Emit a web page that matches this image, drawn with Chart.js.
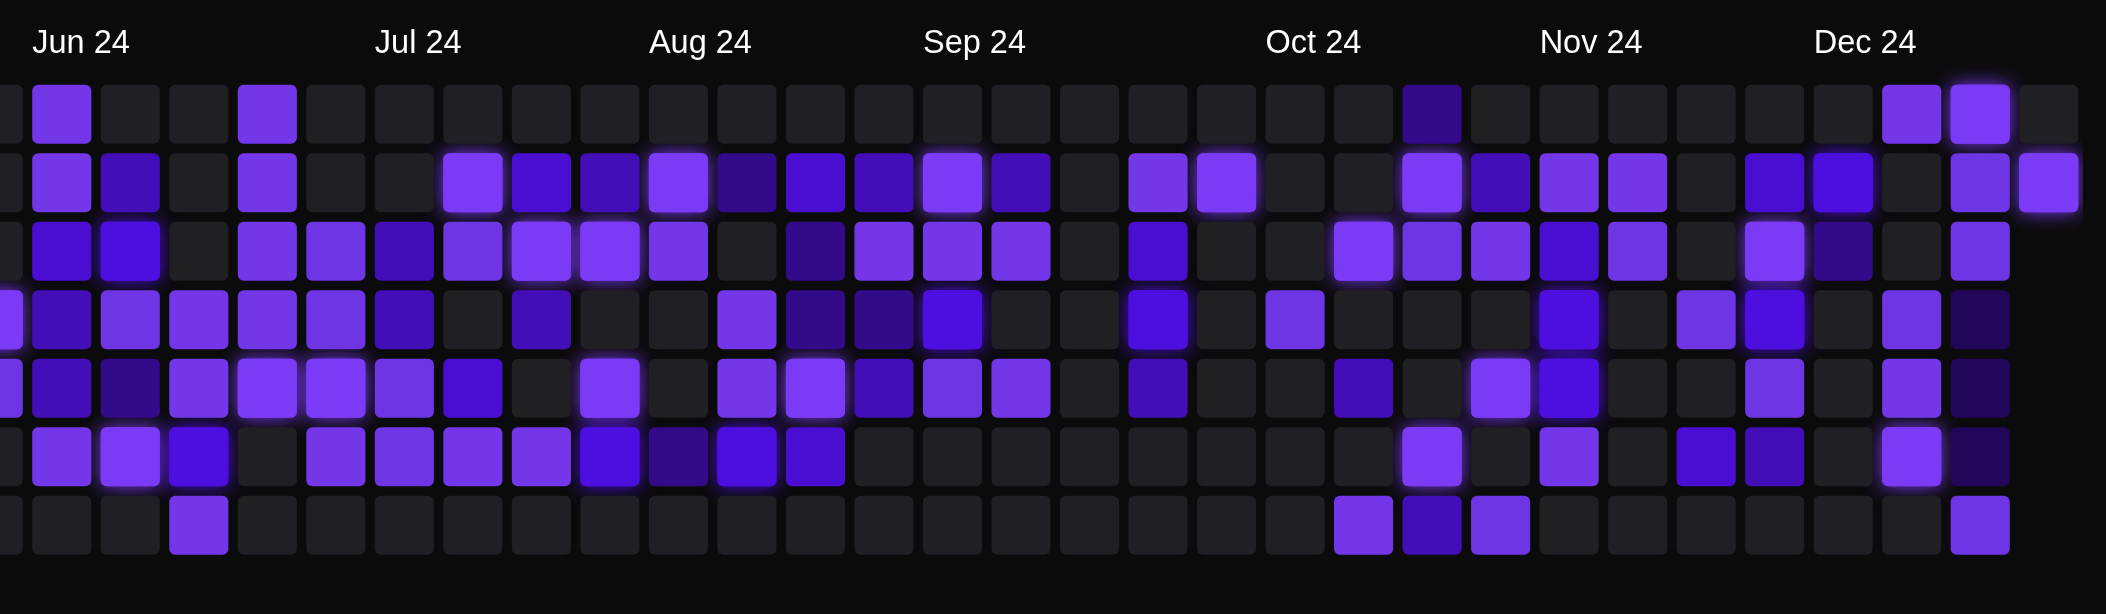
<!DOCTYPE html>
<html>
<head>
<meta charset="utf-8">
<title>Activity</title>
<script src="https://cdn.jsdelivr.net/npm/chart.js@4.4.1/dist/chart.umd.min.js"></script>
<style>
  html, body { margin: 0; padding: 0; background: #0b0b0b; overflow: hidden; }
  #wrap { position: relative; width: 2106px; height: 614px; overflow: hidden; }
  #activityGraph { position: absolute; left: -41px; top: 0; }
</style>
</head>
<body>
<div id="wrap">
  <canvas id="activityGraph" width="2124" height="614"></canvas>
</div>
<script>
// semanas (inicio en domingo)
var weeks = ['2024-05-26', '2024-06-02', '2024-06-09', '2024-06-16', '2024-06-23', '2024-06-30',
  '2024-07-07', '2024-07-14', '2024-07-21', '2024-07-28', '2024-08-04', '2024-08-11', '2024-08-18',
  '2024-08-25', '2024-09-01', '2024-09-08', '2024-09-15', '2024-09-22', '2024-09-29', '2024-10-06',
  '2024-10-13', '2024-10-20', '2024-10-27', '2024-11-03', '2024-11-10', '2024-11-17', '2024-11-24',
  '2024-12-01', '2024-12-08', '2024-12-15', '2024-12-22'];

var monthStarts = ['2024-06-02', '2024-07-07', '2024-08-04', '2024-09-01', '2024-10-06', '2024-11-03', '2024-12-01'];
var monthLabels = ['Jun 24', 'Jul 24', 'Aug 24', 'Sep 24', 'Oct 24', 'Nov 24', 'Dec 24'];
var dayNames = ['Sun', 'Mon', 'Tue', 'Wed', 'Thu', 'Fri', 'Sat'];

// nivel de actividad por dia (0 = nada)
var sun = [0, 7, 0, 0, 7, 0, 0, 0, 0, 0, 0, 0, 0, 0, 0, 0, 0, 0, 0, 0, 0, 2, 0, 0, 0, 0, 0, 0, 7, 8, 0];
var mon = [0, 7, 3, 0, 7, 0, 0, 8, 4, 3, 8, 2, 4, 3, 8, 3, 0, 7, 8, 0, 0, 8, 3, 7, 7, 0, 4, 5, 0, 6, 8];
var tue = [0, 4, 5, 0, 7, 6, 3, 6, 8, 8, 7, 0, 2, 7, 7, 7, 0, 4, 0, 0, 8, 6, 7, 4, 6, 0, 8, 2, 0, 6, null];
var wed = [8, 3, 6, 7, 7, 6, 3, 0, 3, 0, 0, 7, 2, 2, 5, 0, 0, 5, 0, 6, 0, 0, 0, 5, 0, 6, 5, 0, 6, 1, null];
var thu = [6, 3, 2, 7, 8, 8, 6, 4, 0, 8, 0, 7, 8, 3, 6, 7, 0, 3, 0, 0, 3, 0, 8, 5, 0, 0, 6, 0, 7, 1, null];
var fri = [0, 7, 8, 5, 0, 7, 6, 7, 7, 5, 2, 5, 4, 0, 0, 0, 0, 0, 0, 0, 0, 8, 0, 7, 0, 4, 3, 0, 8, 1, null];
var sat = [0, 0, 0, 7, 0, 0, 0, 0, 0, 0, 0, 0, 0, 0, 0, 0, 0, 0, 0, 0, 7, 3, 6, 0, 0, 0, 0, 0, 0, 6, null];
var days = [sun, mon, tue, wed, thu, fri, sat];

var levelColors = ['#1f1f24', '#22065a', '#330b8a', '#430db8', '#4a0ed2', '#4d0fdf', '#6d35e3', '#7337e9', '#7b3af5'];
var glowLevels = [5, 8];
var gap = 4.7;

// brillo detras de las celdas mas fuertes
var glowPlugin = {
  id: 'glow',
  beforeDatasetsDraw: function (chart) {
    var ctx = chart.ctx;
    days.forEach(function (row, d) {
      chart.getDatasetMeta(d).data.forEach(function (bar, i) {
        if (glowLevels.indexOf(row[i]) === -1) return;
        var p = bar.getProps(['x', 'y', 'base', 'width'], true);
        var top = Math.min(p.y, p.base) + gap;
        var h = Math.abs(p.base - p.y) - gap * 2;
        var left = p.x - p.width / 2 + gap;
        var w = p.width - gap * 2;
        ctx.save();
        ctx.shadowColor = levelColors[row[i]];
        ctx.shadowBlur = 20;
        ctx.fillStyle = levelColors[row[i]];
        ctx.beginPath();
        ctx.roundRect(left, top, w, h, 6);
        ctx.fill();
        ctx.restore();
      });
    });
  }
};

var ctx = document.getElementById('activityGraph').getContext('2d');
var myChart = new Chart(ctx, {
  type: 'bar',
  data: {
    labels: weeks,
    datasets: days.map(function (row, d) {
      return {
        label: dayNames[d],
        data: row.map(function (v) { return v === null ? null : [d, d + 1]; }),
        backgroundColor: row.map(function (v) { return v === null ? 'transparent' : levelColors[v]; }),
        borderWidth: 0,
        borderRadius: 6,
        borderSkipped: false,
        inflateAmount: -gap,
        barPercentage: 1,
        categoryPercentage: 1,
        grouped: false
      };
    })
  },
  options: {
    responsive: false,
    animation: false,
    events: [],
    layout: { padding: { top: 0, right: 0, bottom: 54.5, left: 0 } },
    plugins: {
      legend: { display: false },
      tooltip: { enabled: false }
    },
    scales: {
      x: {
        position: 'top',
        offset: true,
        grid: { display: false, drawTicks: false },
        border: { display: false },
        afterFit: function (scale) { scale.height = 80; },
        ticks: {
          autoSkip: false,
          maxRotation: 0,
          align: 'start',
          labelOffset: -29.5,
          padding: 16,
          color: '#ffffff',
          font: { family: "'Liberation Sans', Arial, sans-serif", size: 32.5 },
          callback: function (value, index) {
            var k = monthStarts.indexOf(weeks[index]);
            return k === -1 ? '' : monthLabels[k];
          }
        }
      },
      y: { display: false, min: 0, max: 7, reverse: true }
    }
  },
  plugins: [glowPlugin]
});
</script>
</body>
</html>
